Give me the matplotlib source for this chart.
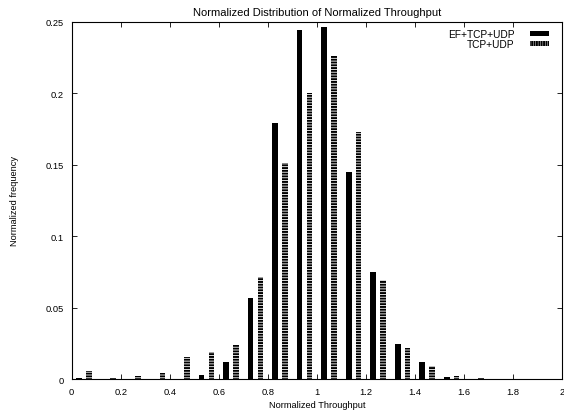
import matplotlib
matplotlib.use("Agg")
import matplotlib.pyplot as plt
from matplotlib.patches import Patch

# --- histogram bins (left edge of each 0.1 wide bin)
bin_starts = [0.0, 0.1, 0.2, 0.3, 0.4, 0.5, 0.6, 0.7, 0.8, 0.9,
              1.0, 1.1, 1.2, 1.3, 1.4, 1.5, 1.6]

ef_tcp_udp = [0.001, 0.0, 0.0, 0.0, 0.0, 0.0028, 0.0118, 0.0564, 0.1795,
              0.244, 0.246, 0.145, 0.0746, 0.0248, 0.0117, 0.0017, 0.0]
tcp_udp = [0.0055, 0.0007, 0.002, 0.0045, 0.0156, 0.0186, 0.024, 0.0716,
           0.1515, 0.2005, 0.226, 0.1732, 0.0694, 0.022, 0.009, 0.0022, 0.001]

x_ticks = [0, 0.2, 0.4, 0.6, 0.8, 1.0, 1.2, 1.4, 1.6, 1.8, 2.0]
x_labels = ["0", "0.2", "0.4", "0.6", "0.8", "1", "1.2", "1.4", "1.6", "1.8", "2"]
y_ticks = [0, 0.05, 0.1, 0.15, 0.2, 0.25]
y_labels = ["0", "0.05", "0.1", "0.15", "0.2", "0.25"]

plt.rcParams["font.family"] = ["Liberation Sans", "DejaVu Sans"]
plt.rcParams["font.size"] = 6.7
plt.rcParams["hatch.color"] = "black"
plt.rcParams["hatch.linewidth"] = 1.4

fig = plt.figure(figsize=(5.64, 4.14), dpi=100)
ax = fig.add_axes([0.127, 0.082, 0.8695, 0.863])

w = 0.023
ax.bar([b + 0.03 for b in bin_starts], ef_tcp_udp, width=w, color="black", linewidth=0)
ax.bar([b + 0.07 for b in bin_starts], tcp_udp, width=w, facecolor="white",
       edgecolor="black", linewidth=0, hatch="------")

ax.set_xlim(0, 2)
ax.set_ylim(0, 0.25)
ax.set_xticks(x_ticks)
ax.set_xticklabels(x_labels)
ax.set_yticks(y_ticks)
ax.set_yticklabels(y_labels)
ax.tick_params(direction="in", top=True, right=True, length=3.5, width=0.6, pad=5.5)
for s in ax.spines.values():
    s.set_linewidth(0.8)

ax.set_title("Normalized Distribution of Normalized Throughput", pad=5)
ax.set_xlabel("Normalized Throughput", labelpad=3)
ax.set_ylabel("Normalized frequency", labelpad=19)

handles = [Patch(facecolor="black", edgecolor="black", linewidth=0),
           Patch(facecolor="white", edgecolor="black", linewidth=0, hatch="|||||||")]
ax.legend(handles, ["EF+TCP+UDP", "TCP+UDP"], loc="upper right",
          bbox_to_anchor=(0.9735, 0.98), frameon=False, fontsize=7.3,
          markerfirst=False, handlelength=1.88, handleheight=0.4,
          labelspacing=0.05, handletextpad=1.5, borderaxespad=0, borderpad=0)

fig.savefig("out.png", dpi=100)
